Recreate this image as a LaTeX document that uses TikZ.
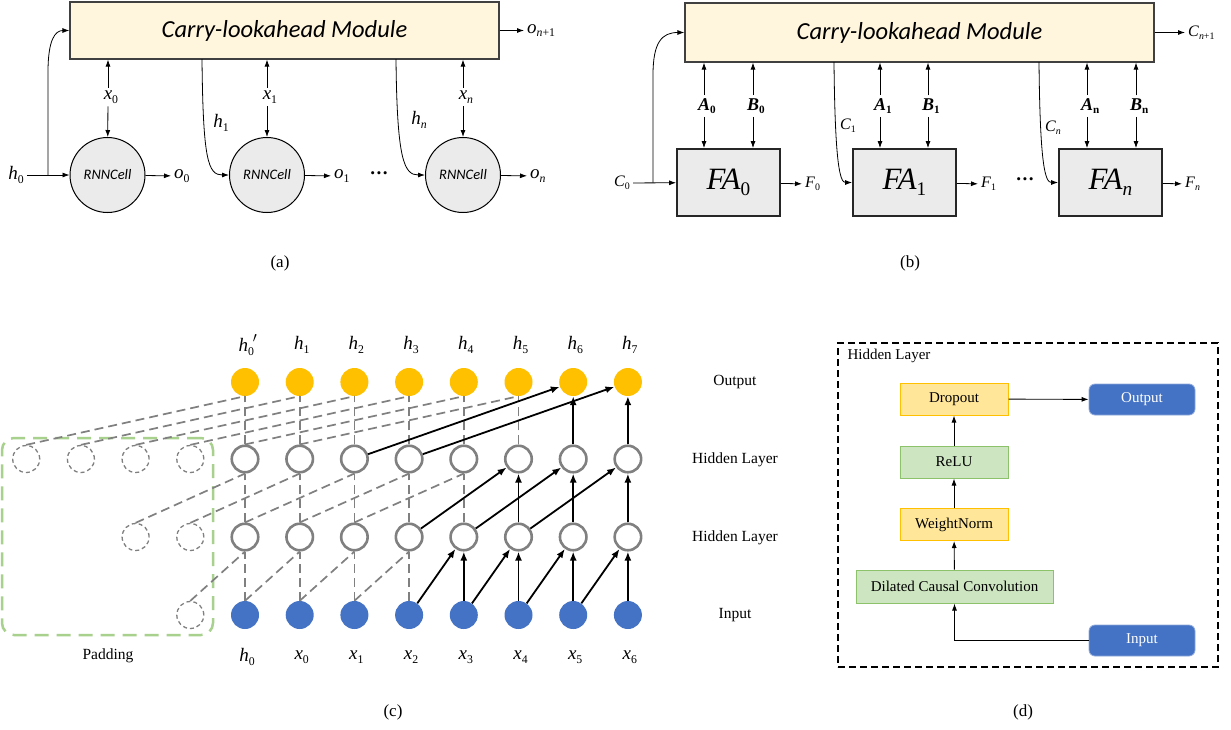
\documentclass[tikz,border=0pt]{standalone}
\usepackage{fontspec}
\setmainfont{Liberation Serif}
\newfontfamily\califont{Carlito}
\usepackage{graphicx}
\usetikzlibrary{arrows.meta}
\definecolor{modfill}{HTML}{FFF6DD}
\definecolor{cellfill}{HTML}{EBEBEB}
\definecolor{orng}{HTML}{FFC000}
\definecolor{blu}{HTML}{4472C4}
\definecolor{gry}{HTML}{808080}
\definecolor{padgreen}{HTML}{A9D18E}
\definecolor{yfill}{HTML}{FFE699}
\definecolor{yline}{HTML}{FFC000}
\definecolor{gfill}{HTML}{CDE5C0}
\definecolor{gline}{HTML}{8CC36A}
\definecolor{bline}{HTML}{8FAADC}
\newcommand{\sbf}[2]{#1\raisebox{-0.4ex}{\scalebox{0.62}{#2}}}
\newcommand{\sbr}[2]{#1\rlap{\raisebox{-0.4ex}{\scalebox{0.62}{#2}}}}
\newcommand{\mydots}{\textbf{\textperiodcentered\textperiodcentered\textperiodcentered}}
\tikzset{
  fs/.style={font=\fontsize{#1}{#1}\selectfont},
  ar/.style={-{Latex[length=7pt,width=5pt]}, line width=0.8pt},
  lab/.style={inner sep=3pt, fs=19},
  modbox/.style={draw=black!75, fill=modfill, line width=1.2pt, font=\fontsize{24.5}{24.5}\selectfont\califont\itshape},
  cell/.style={circle, draw=black, fill=cellfill, line width=1pt, minimum size=75pt, inner sep=0pt, font=\fontsize{14.5}{14.5}\selectfont\califont\itshape},
  fabox/.style={draw=black!85, fill=cellfill, line width=1.8pt, minimum width=103pt, minimum height=67pt, inner sep=0pt, fs=31},
  ablab/.style={inner sep=3pt, font=\fontsize{18}{18}\selectfont\bfseries\itshape},
  cflab/.style={inner sep=3pt, fs=16},
  outc/.style={circle, fill=orng, minimum size=28pt, inner sep=0pt},
  inc/.style={circle, fill=blu, minimum size=28pt, inner sep=0pt},
  hidc/.style={circle, draw=gry, line width=2.6pt, fill=white, minimum size=26.5pt, inner sep=0pt},
  padc/.style={circle, draw=gry, line width=1.3pt, dash pattern=on 4pt off 3pt, minimum size=27pt, inner sep=0pt},
  dsh/.style={draw=gry, line width=1.7pt, dash pattern=on 9pt off 5pt},
  sol/.style={line width=1.8pt, -{Latex[length=9pt,width=7pt]}},
  rowlab/.style={fs=15.5},
  ybox/.style={draw=yline, fill=yfill, line width=1pt, minimum width=108pt, minimum height=32pt, fs=15},
  gbox/.style={draw=gline, fill=gfill, line width=1pt, minimum width=108pt, minimum height=32pt, fs=15},
  bbox/.style={draw=bline, fill=blu, text=white, line width=0.8pt, rounded corners=6pt, minimum width=106pt, minimum height=31pt, fs=15},
  darr/.style={-{Latex[length=7pt,width=5pt]}, line width=0.9pt},
  captext/.style={fs=17}
}
\begin{document}
\begin{tikzpicture}[x=1pt,y=-1pt]
\useasboundingbox (0,0) rectangle (1231,729);
\fill[white] (0,0) rectangle (1231,729);

% ================= (a) =================
\node[modbox, minimum width=429pt, minimum height=57pt] (ma) at (284.5,30.5) {Carry-lookahead Module};
\node[cell] (c0) at (107.5,175) {RNNCell};
\node[cell] (c1) at (267,175) {RNNCell};
\node[cell] (c2) at (463,175) {RNNCell};
\node[lab] (h0) at (16,175) {\sbf{\textit{h}}{0}};
\draw[ar] (h0) -- (c0);
\coordinate (h0b) at (48,175);
\coordinate (h0t) at (48,72);
\draw[ar] (h0b) -- (h0t) .. controls (48,40) and (55,30.5) .. (ma.west);
\node[lab] (x0) at (108,97) {\sbr{\textit{x}}{0}};
\node[lab] (x1) at (267,97) {\sbr{\textit{x}}{1}};
\node[lab] (xn) at (463,97) {\sbr{\textit{x}}{\textit{n}}};
\foreach \n/\c in {x0/c0,x1/c1,xn/c2}{
  \draw[ar] (\n) -- (\n |- ma.south);
  \draw[ar] (\n) -- (\c);
}
\coordinate (h1s) at (202,59);
\coordinate (hns) at (396,59);
\draw[ar] (h1s) .. controls (203,160) and (208,175) .. (c1.west);
\draw[ar] (hns) .. controls (397,160) and (404,175) .. (c2.west);
\node[lab] (h1l) at (221,123) {\sbf{\textit{h}}{1}};
\node[lab] (hnl) at (419,120) {\sbf{\textit{h}}{\textit{n}}};
\node[lab, anchor=west] (o0) at (171,176) {\sbf{\textit{o}}{0}};
\node[lab, anchor=west] (o1) at (331,176) {\sbf{\textit{o}}{1}};
\node[lab, anchor=west] (on) at (527,176) {\sbf{\textit{o}}{\textit{n}}};
\draw[ar] (c0) -- (o0);
\draw[ar] (c1) -- (o1);
\draw[ar] (c2) -- (on);
\node[fs=19] (dotsa) at (379,176) {\mydots};
\node[lab, anchor=west] (onp) at (524,30.5) {\sbf{\textit{o}}{\textit{n}+1}};
\draw[ar] (ma.east) -- (onp);
\node[captext] (capa) at (280,263) {(a)};

% ================= (b) =================
\node[modbox, minimum width=469pt, minimum height=59pt] (mb) at (919.5,32.5) {Carry-lookahead Module};
\node[fabox] (fa0) at (728.5,182.5) {\sbf{\textit{FA}}{0}};
\node[fabox] (fa1) at (904.5,182.5) {\sbf{\textit{FA}}{1}};
\node[fabox] (fan) at (1110.5,182.5) {\sbf{\textit{FA}}{\textit{n}}};
\node[cflab, anchor=east] (C0) at (633,183) {\sbf{\textit{C}}{0}};
\draw[ar] (C0) -- (fa0);
\coordinate (c0b) at (653,182.5);
\coordinate (c0t) at (653,75);
\draw[ar] (c0b) -- (c0t) .. controls (653,42) and (662,32.5) .. (mb.west);
\foreach \f/\xa/\xb/\s in {fa0/704/753/0, fa1/880/928/1, fan/1087/1136/n}{
  \node[ablab] (A\s) at (\xa,106) {\sbr{\textit{A}}{\ifx n\s\textit{n}\else\upshape\s\fi}};
  \node[ablab] (B\s) at (\xb,106) {\sbr{\textit{B}}{\ifx n\s\textit{n}\else\upshape\s\fi}};
  \draw[ar] (A\s) -- (A\s |- mb.south);
  \draw[ar] (A\s) -- (A\s |- \f.north);
  \draw[ar] (B\s) -- (B\s |- mb.south);
  \draw[ar] (B\s) -- (B\s |- \f.north);
}
\coordinate (c1s) at (834,62);
\coordinate (cns) at (1039,62);
\draw[ar] (c1s) .. controls (835,165) and (840,182.5) .. (fa1.west);
\draw[ar] (cns) .. controls (1040,165) and (1045,182.5) .. (fan.west);
\node[cflab] (C1l) at (848,126) {\sbf{\textit{C}}{1}};
\node[cflab] (Cnl) at (1053,128) {\sbf{\textit{C}}{\textit{n}}};
\node[cflab, anchor=west] (F0) at (802,184) {\sbf{\textit{F}}{0}};
\node[cflab, anchor=west] (F1) at (978,184) {\sbf{\textit{F}}{1}};
\node[cflab, anchor=west] (Fn) at (1182,184) {\sbf{\textit{F}}{\textit{n}}};
\draw[ar] (fa0) -- (F0);
\draw[ar] (fa1) -- (F1);
\draw[ar] (fan) -- (Fn);
\node[fs=19] (dotsb) at (1025,182) {\mydots};
\node[cflab, anchor=west] (Cnp) at (1185,32.5) {\sbf{\textit{C}}{\textit{n}+1}};
\draw[ar] (mb.east) -- (Cnp);
\node[captext] (capb) at (910,263) {(b)};

% ================= (c) =================
\node[draw=padgreen, line width=2.5pt, dash pattern=on 14pt off 8pt, rounded corners=12pt, minimum width=211pt, minimum height=197pt] (padbox) at (107.5,536.5) {};
\node[rowlab] (padl) at (108,656) {Padding};
\foreach \i in {0,...,7}{
  \pgfmathsetmacro\xx{245+54.7*\i}
  \node[outc] (o\i) at (\xx,382) {};
  \node[hidc] (b\i) at (\xx,459) {};
  \node[hidc] (a\i) at (\xx,537) {};
  \node[inc] (n\i) at (\xx,615) {};
}
\foreach \k in {1,...,4} \node[padc] (pb\k) at ({245-54.7*\k},459) {};
\foreach \k in {1,2} \node[padc] (pa\k) at ({245-54.7*\k},537) {};
\node[padc] (pn1) at (190.3,615) {};
% input -> hidden 1
\foreach \i in {0,...,3} \draw[dsh] (n\i.north) -- (a\i.south);
\draw[dsh] (pn1.north) -- (a0.south);
\foreach \i/\j in {0/1,1/2,2/3} \draw[dsh] (n\i.north) -- (a\j.south);
\foreach \i in {4,...,7} \draw[sol] (n\i) -- (a\i);
\foreach \i/\j in {3/4,4/5,5/6,6/7} \draw[sol] (n\i) -- (a\j);
% hidden 1 -> hidden 2
\foreach \i in {0,...,4} \draw[dsh] (a\i.north) -- (b\i.south);
\draw[dsh] (pa2.north) -- (b0.south);
\draw[dsh] (pa1.north) -- (b1.south);
\foreach \i/\j in {0/2,1/3,2/4} \draw[dsh] (a\i.north) -- (b\j.south);
\foreach \i in {5,6,7} \draw[sol] (a\i) -- (b\i);
\foreach \i/\j in {3/5,4/6,5/7} \draw[sol] (a\i) -- (b\j);
% hidden 2 -> output
\foreach \i in {0,...,5} \draw[dsh] (b\i.north) -- (o\i.south);
\foreach \k/\j in {4/0,3/1,2/2,1/3} \draw[dsh] (pb\k.north) -- (o\j.south);
\foreach \i/\j in {0/4,1/5} \draw[dsh] (b\i.north) -- (o\j.south);
\foreach \i in {6,7} \draw[sol] (b\i) -- (o\i);
\foreach \i/\j in {2/6,3/7} \draw[sol] (b\i) -- (o\j);
% labels
\node[fs=19] (t0) at (248,345) {\textit{h}\raisebox{-0.4ex}{\scalebox{0.62}{0}}\kern-1pt\raisebox{0.3ex}{$^{\prime}$}};
\foreach \i in {1,...,7} \node[fs=19] (t\i) at ({247+54.7*\i},345) {\sbf{\textit{h}}{\i}};
\node[fs=19] (u0) at (247,657) {\sbf{\textit{h}}{0}};
\foreach \i in {1,...,7}{
  \pgfmathtruncatemacro\jj{\i-1}
  \node[fs=19] (u\i) at ({247+54.7*\i},657) {\sbf{\textit{x}}{\jj}};
}
\node[rowlab] (rl1) at (735,382) {Output};
\node[rowlab] (rl2) at (735,460) {Hidden Layer};
\node[rowlab] (rl3) at (735,538) {Hidden Layer};
\node[rowlab] (rl4) at (735,615) {Input};
\node[captext] (capc) at (393,712) {(c)};

% ================= (d) =================
\node[draw=black, line width=1.2pt, dash pattern=on 7pt off 4pt, minimum width=380pt, minimum height=324pt] (dframe) at (1028,505) {};
\node[fs=15, anchor=west] (dtitle) at (844,356) {Hidden Layer};
\node[ybox] (drop) at (954,399) {Dropout};
\node[gbox] (relu) at (954,462) {ReLU};
\node[ybox] (wn) at (954,524.5) {WeightNorm};
\node[gbox, minimum width=197pt, minimum height=33pt] (dcc) at (954.5,586.5) {Dilated Causal Convolution};
\node[bbox] (dout) at (1142,399.5) {Output};
\node[bbox] (din) at (1142,640.5) {Input};
\draw[darr] (din.west) -| (dcc.south);
\draw[darr] (dcc) -- (wn);
\draw[darr] (wn) -- (relu);
\draw[darr] (relu) -- (drop);
\draw[darr] (drop) -- (dout);
\node[captext] (capd) at (1023,712) {(d)};
\end{tikzpicture}
\end{document}
